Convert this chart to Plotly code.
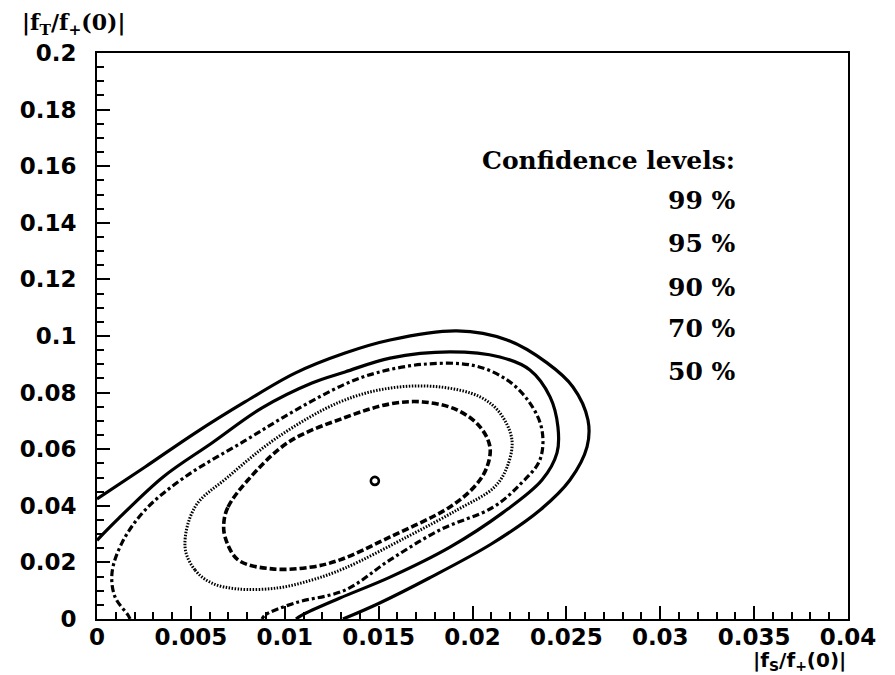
import plotly.graph_objects as go

# ---- data ----
cl99_x = [0.0, 0.00256, 0.00522, 0.00788, 0.01055, 0.01321, 0.01561, 0.01917, 0.02184, 0.02397,
          0.02535, 0.02615, 0.02610, 0.02519, 0.02360, 0.02100, 0.01770, 0.01500, 0.01310]
cl99_y = [0.0424, 0.0537, 0.0657, 0.0767, 0.0869, 0.0940, 0.0986, 0.1018, 0.0986, 0.0905,
          0.0820, 0.0703, 0.0608, 0.0491, 0.0385, 0.0265, 0.0145, 0.0055, 0.0]

cl95_x = [0.0, 0.00107, 0.00352, 0.00612, 0.00879, 0.01145, 0.01321, 0.01561, 0.01880, 0.02146,
          0.02306, 0.02413, 0.02455, 0.02450, 0.02370, 0.02160, 0.01880, 0.01561, 0.01294, 0.01092, 0.01060]
cl95_y = [0.0278, 0.0350, 0.0502, 0.0622, 0.0746, 0.0834, 0.0873, 0.0922, 0.0944, 0.0926,
          0.0880, 0.0785, 0.0679, 0.0587, 0.0491, 0.0375, 0.0254, 0.0148, 0.0074, 0.0014, 0.0]

cl90_x = [0.00176, 0.00165, 0.00096, 0.00080, 0.00133, 0.00256, 0.00469, 0.00788, 0.01055, 0.01321,
          0.01490, 0.01736, 0.02003, 0.02184, 0.02306, 0.02370, 0.02359, 0.02260, 0.02110, 0.01827,
          0.01561, 0.01321, 0.01055, 0.00895, 0.00879]
cl90_y = [0.0, 0.0014, 0.0078, 0.0163, 0.0269, 0.0385, 0.0502, 0.0630, 0.0737, 0.0830,
          0.0870, 0.0900, 0.0896, 0.0845, 0.0763, 0.0668, 0.0562, 0.0480, 0.0395, 0.0315,
          0.0209, 0.0102, 0.0057, 0.0014, 0.0]

cl70_x = [0.00469, 0.00522, 0.00612, 0.00751, 0.00964, 0.01145, 0.01321, 0.01651, 0.01917, 0.02115,
          0.02184, 0.02210, 0.02146, 0.02040, 0.01827, 0.01561, 0.01294, 0.00964, 0.00698, 0.00522, 0.00469]
cl70_y = [0.0254, 0.0173, 0.0127, 0.0106, 0.0110, 0.0138, 0.0180, 0.0290, 0.0385, 0.0465,
          0.0537, 0.0633, 0.0728, 0.0785, 0.0820, 0.0816, 0.0767, 0.0643, 0.0502, 0.0396, 0.0254]

cl50_x = [0.00676, 0.00698, 0.00804, 0.01020, 0.01321, 0.01561, 0.01736, 0.01917, 0.02040, 0.02093,
          0.02077, 0.02019, 0.01880, 0.01561, 0.01294, 0.01145, 0.00932, 0.00751, 0.00682, 0.00676]
cl50_y = [0.0343, 0.0396, 0.0491, 0.0625, 0.0712, 0.0760, 0.0767, 0.0739, 0.0679, 0.0608,
          0.0537, 0.0474, 0.0396, 0.0290, 0.0209, 0.0184, 0.0177, 0.0209, 0.0290, 0.0343]

best_x = [0.0148]
best_y = [0.0488]

legend_title = "Confidence levels:"
legend_labels = ["99 %", "95 %", "90 %", "70 %", "50 %"]

x_tickvals = [0, 0.005, 0.01, 0.015, 0.02, 0.025, 0.03, 0.035, 0.04]
x_ticktext = ["0", "0.005", "0.01", "0.015", "0.02", "0.025", "0.03", "0.035", "0.04"]
y_tickvals = [0, 0.02, 0.04, 0.06, 0.08, 0.1, 0.12, 0.14, 0.16, 0.18, 0.2]
y_ticktext = ["0", "0.02", "0.04", "0.06", "0.08", "0.1", "0.12", "0.14", "0.16", "0.18", "0.2"]

# ---- figure ----
fig = go.Figure()

styles = [
    (cl99_x, cl99_y, "solid", 3.2),
    (cl95_x, cl95_y, "solid", 3.2),
    (cl90_x, cl90_y, "7px,3px,3px,3px", 3.2),
    (cl70_x, cl70_y, "1.5px,1.5px", 3.0),
    (cl50_x, cl50_y, "7px,3px", 3.6),
]
for xs, ys, dash, w in styles:
    fig.add_trace(go.Scatter(x=xs, y=ys, mode="lines",
                             line=dict(color="black", width=w, dash=dash, shape="spline", smoothing=1.0),
                             showlegend=False, hoverinfo="skip"))

fig.add_trace(go.Scatter(x=best_x, y=best_y, mode="markers",
                         marker=dict(symbol="circle-open", size=8, color="black", line=dict(width=2.6)),
                         showlegend=False, hoverinfo="skip"))

tickfont = dict(family="DejaVu Sans", size=23, color="black", weight="bold")

fig.update_xaxes(range=[0, 0.04], tickmode="array", tickvals=x_tickvals, ticktext=x_ticktext,
                 ticks="inside", ticklen=13, tickwidth=2, tickcolor="black",
                 minor=dict(ticks="inside", ticklen=7, tickwidth=2, tickcolor="black", dtick=0.001,
                            tick0=0, showgrid=False),
                 showline=True, linewidth=2, linecolor="black", mirror=True, automargin=False,
                 showgrid=False, zeroline=False, tickfont=tickfont, ticklabelstandoff=-4)
fig.update_yaxes(range=[0, 0.2], tickmode="array", tickvals=y_tickvals, ticktext=y_ticktext,
                 ticks="inside", ticklen=13, tickwidth=2, tickcolor="black",
                 minor=dict(ticks="inside", ticklen=7, tickwidth=2, tickcolor="black", dtick=0.005,
                            tick0=0, showgrid=False),
                 showline=True, linewidth=2, linecolor="black", mirror=True, automargin=False,
                 showgrid=False, zeroline=False, tickfont=tickfont, ticklabelstandoff=14)

annotations = []
serif = dict(family="DejaVu Serif", size=25, color="black", weight="bold")
annotations.append(dict(text=legend_title, xref="paper", yref="paper", x=0.852, y=0.810,
                        xanchor="right", yanchor="middle", showarrow=False, font=serif))
label_y = [0.739, 0.663, 0.586, 0.513, 0.438]
for lbl, yy in zip(legend_labels, label_y):
    annotations.append(dict(text=lbl, xref="paper", yref="paper", x=0.852, y=yy,
                            xanchor="right", yanchor="middle", showarrow=False, font=serif))

annotations.append(dict(text="|f<sub>T</sub>/f<sub>+</sub>(0)|", xref="paper", yref="paper",
                        x=-0.103, y=1.052, xanchor="left", yanchor="middle", showarrow=False,
                        font=dict(family="DejaVu Serif", size=22, color="black", weight="bold")))
annotations.append(dict(text="|f<sub>S</sub>/f<sub>+</sub>(0)|", xref="paper", yref="paper",
                        x=1.0, y=-0.074, xanchor="right", yanchor="middle", showarrow=False,
                        font=dict(family="DejaVu Sans", size=20, color="black", weight="bold")))

# page body has an 8px offset; compensate so the plot frame sits at x 97-848, y 53-619
fig.update_layout(width=887, height=667, margin=dict(l=89, r=47, t=45, b=56),
                  paper_bgcolor="white", plot_bgcolor="white", annotations=annotations)

fig.write_html("out.html")
